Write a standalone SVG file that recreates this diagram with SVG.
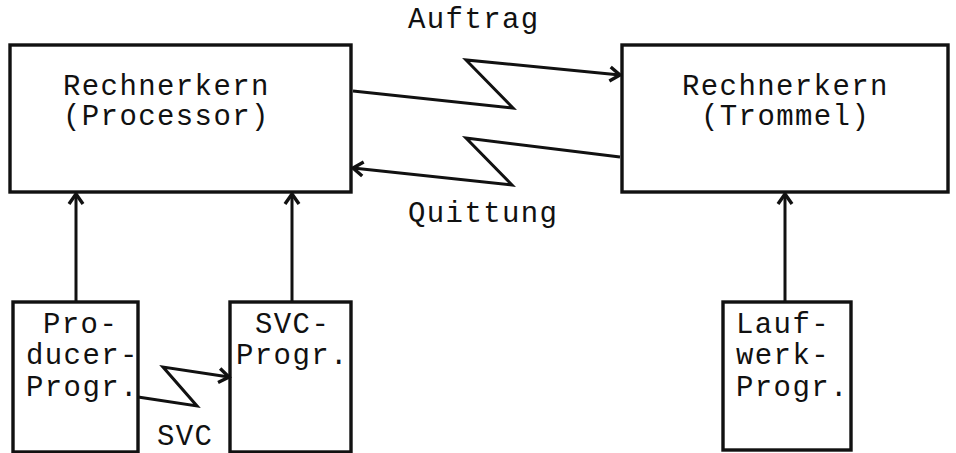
<svg xmlns="http://www.w3.org/2000/svg" width="956" height="453" viewBox="0 0 956 453">
<style>
.box{fill:#fff;stroke:#111;stroke-width:3.4}
.t{font-family:"Liberation Mono","Courier New",monospace;font-size:29px;letter-spacing:1.4px;fill:#111}
.c{fill:none;stroke:#111;stroke-width:3;stroke-linejoin:miter}
</style>
<defs>
<marker id="ah" markerUnits="userSpaceOnUse" markerWidth="20" markerHeight="20" viewBox="0 0 20 20" refX="14" refY="10" orient="auto">
<path d="M4,3 L14,10 L4,17" fill="none" stroke="#111" stroke-width="3.4"/>
</marker>
</defs>
<rect width="956" height="453" fill="#fff"/>
<g id="proc">
<rect class="box" x="10" y="45" width="341" height="147"/>
<text class="t" x="63" y="95">Rechnerkern</text>
<text class="t" x="63" y="125">(Processor)</text>
</g>
<g id="trommel">
<rect class="box" x="622" y="45" width="326" height="147"/>
<text class="t" x="682" y="95">Rechnerkern</text>
<text class="t" x="701" y="125">(Trommel)</text>
</g>
<g id="producer">
<rect class="box" x="13" y="302" width="125" height="150"/>
<text class="t" x="43" y="333">Pro-</text>
<text class="t" x="26" y="364">ducer-</text>
<text class="t" x="26" y="396">Progr.</text>
</g>
<g id="svcprogr">
<rect class="box" x="230" y="302" width="121" height="150"/>
<text class="t" x="255" y="333">SVC-</text>
<text class="t" x="236" y="364">Progr.</text>
</g>
<g id="laufwerk">
<rect class="box" x="723" y="302" width="128" height="148"/>
<text class="t" x="736" y="333">Lauf-</text>
<text class="t" x="736" y="364">werk-</text>
<text class="t" x="736" y="396">Progr.</text>
</g>
<g id="connectors">
<polyline class="c" points="353,91 513,108 466,60 620,75" marker-end="url(#ah)"/>
<polyline class="c" points="620,157 466,138 512,185 353,168" marker-end="url(#ah)"/>
<polyline class="c" points="138,397 197,406 163,367 229,377" marker-end="url(#ah)"/>
<line class="c" x1="76" y1="302" x2="76" y2="194" marker-end="url(#ah)"/>
<line class="c" x1="292" y1="302" x2="292" y2="194" marker-end="url(#ah)"/>
<line class="c" x1="785" y1="302" x2="785" y2="194" marker-end="url(#ah)"/>
</g>
<g id="labels">
<text class="t" x="408" y="28">Auftrag</text>
<text class="t" x="408" y="222">Quittung</text>
<text class="t" x="157" y="445">SVC</text>
</g>
</svg>
